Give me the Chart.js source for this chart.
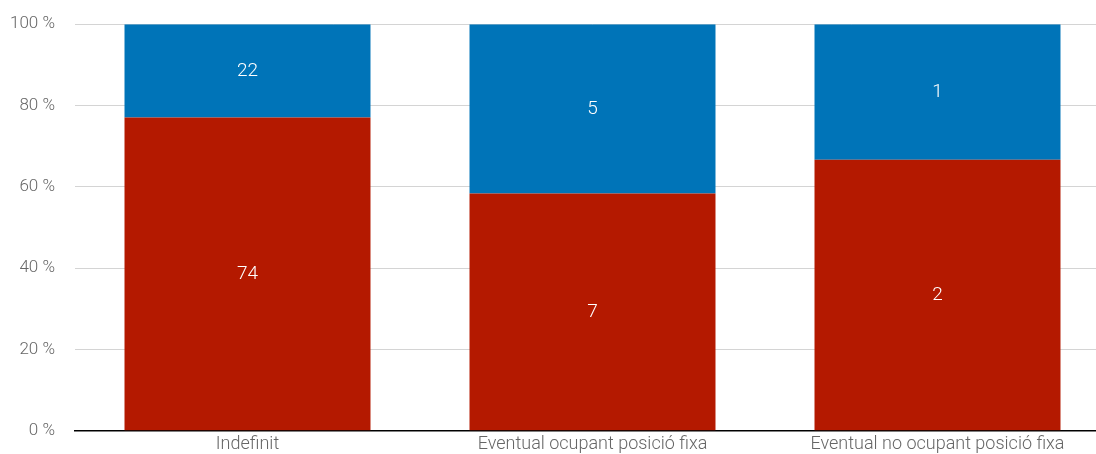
<!DOCTYPE html>
<html lang="ca">
<head>
<meta charset="utf-8">
<title>Contractes</title>
<script src="https://cdn.jsdelivr.net/npm/chart.js@4"></script>
<style>
    html, body { margin: 0; padding: 0; background: #fff; overflow: hidden; }
    .chart-wrap { position: relative; width: 1110px; height: 467px; margin-top: -6px; }
</style>
</head>
<body>
<div class="chart-wrap"><canvas id="stackChart"></canvas></div>
<script>
// ── Dades ────────────────────────────────────────────────────
const categories  = ['Indefinit', 'Eventual ocupant posició fixa', 'Eventual no ocupant posició fixa'];
const redCounts   = [74, 7, 2];
const blueCounts  = [22, 5, 1];
const yTicks      = [0, 20, 40, 60, 80, 100];

const colorRed  = '#B41900';
const colorBlue = '#0074B8';
const fontFam   = 'Roboto, "Liberation Sans", sans-serif';

// percentatge sobre el total de cada categoria (barres 100 %)
const totals   = categories.map((_, i) => redCounts[i] + blueCounts[i]);
const redPct   = redCounts.map((v, i) => v / totals[i] * 100);
const bluePct  = blueCounts.map((v, i) => v / totals[i] * 100);

// ── Etiquetes dins les barres ────────────────────────────────
const countLabels = {
    id: 'countLabels',
    afterDatasetsDraw(chart) {
        const ctx = chart.ctx;
        ctx.save();
        ctx.fillStyle = '#fff';
        ctx.font = `300 19px ${fontFam}`;
        ctx.textAlign = 'center';
        ctx.textBaseline = 'middle';
        chart.data.datasets.forEach((ds, di) => {
            chart.getDatasetMeta(di).data.forEach((bar, i) => {
                const mid = (bar.y + bar.base) / 2;
                ctx.fillText(String(ds.counts[i]), bar.x, mid);
            });
        });
        ctx.restore();
    },
};

new Chart(document.getElementById('stackChart'), {
    type: 'bar',
    data: {
        labels: categories,
        datasets: [
            { data: redPct,  counts: redCounts,  backgroundColor: colorRed,  borderWidth: 0 },
            { data: bluePct, counts: blueCounts, backgroundColor: colorBlue, borderWidth: 0 },
        ],
    },
    options: {
        responsive: true,
        maintainAspectRatio: false,
        animation: false,
        categoryPercentage: 1,
        barPercentage: 0.713,
        layout: { padding: { top: 8, left: 0, right: 0, bottom: 0 } },
        plugins: {
            legend: { display: false },
            tooltip: { enabled: false },
        },
        scales: {
            x: {
                stacked: true,
                grid: { display: false, drawTicks: false },
                border: { display: true, color: '#000', width: 1.5 },
                ticks: {
                    font: { family: fontFam, size: 18, weight: '300' },
                    color: '#666',
                    padding: 3,
                    maxRotation: 0,
                },
            },
            y: {
                stacked: true,
                min: 0,
                max: 100,
                afterBuildTicks: scale => { scale.ticks = yTicks.map(v => ({ value: v })); },
                afterFit: scale => { scale.width = 75; },
                grid: {
                    color: c => c.tick && c.tick.value === 0 ? 'rgba(0,0,0,0)' : '#d4d4d4',
                    lineWidth: 1,
                    drawTicks: false,
                },
                border: { display: false },
                ticks: {
                    font: { family: fontFam, size: 17, weight: '300' },
                    color: '#666',
                    padding: 20,
                    callback: v => v + ' %',
                },
            },
        },
    },
    plugins: [countLabels],
});
</script>
</body>
</html>
